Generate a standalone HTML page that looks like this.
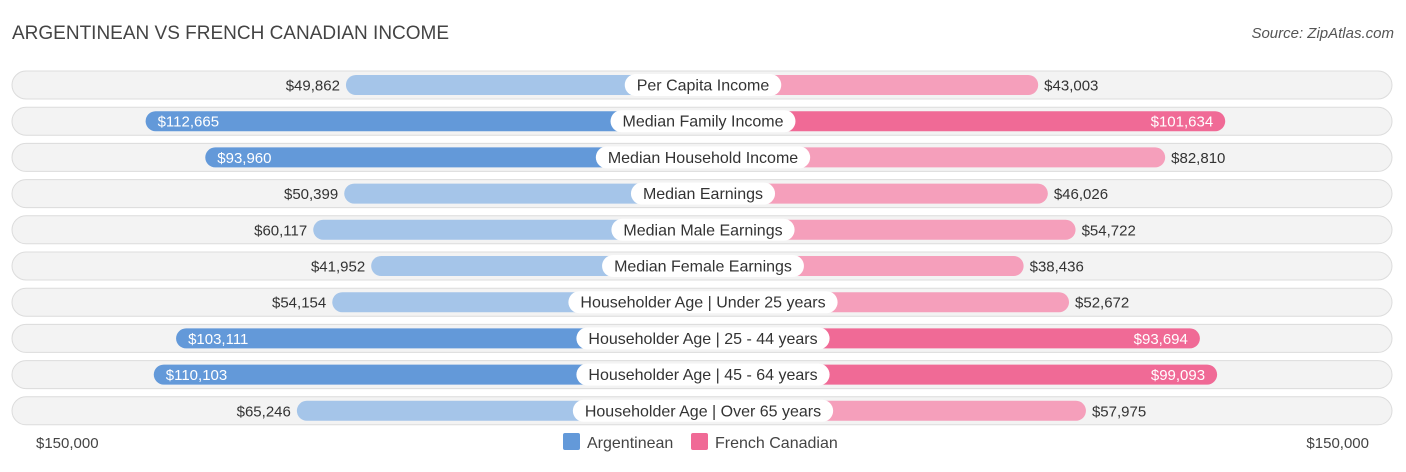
<!DOCTYPE html>
<html><head><meta charset="utf-8"><style>
body{margin:0;background:#fff;font-family:"Liberation Sans",sans-serif;}
svg text{font-family:"Liberation Sans",sans-serif;}
</style></head><body>
<svg id="chart" width="1406" height="467" xmlns="http://www.w3.org/2000/svg">
<text x="12" y="39" font-size="19" fill="#444">ARGENTINEAN VS FRENCH CANADIAN INCOME</text>
<text x="1394" y="38" font-size="15" fill="#555" text-anchor="end" font-style="italic">Source: ZipAtlas.com</text>
<g id="rows"></g>
<text x="36" y="448" font-size="15" fill="#444">$150,000</text>
<text x="1369" y="448" font-size="15" fill="#444" text-anchor="end">$150,000</text>
<g>
<rect x="563" y="433" width="17" height="17" rx="2" fill="#6399d9"/>
<text x="587" y="448" font-size="16" fill="#444">Argentinean</text>
<rect x="691" y="433" width="17" height="17" rx="2" fill="#f06a96"/>
<text x="715" y="448" font-size="16" fill="#444">French Canadian</text>
</g>
</svg>
<script>
const categories=["Per Capita Income","Median Family Income","Median Household Income","Median Earnings","Median Male Earnings","Median Female Earnings","Householder Age | Under 25 years","Householder Age | 25 - 44 years","Householder Age | 45 - 64 years","Householder Age | Over 65 years"];
const argentinean=[49862,112665,93960,50399,60117,41952,54154,103111,110103,65246];
const frenchCanadian=[43003,101634,82810,46026,54722,38436,52672,93694,99093,57975];
const NS="http://www.w3.org/2000/svg";
const cx=703, base=198, scale=3.19/1000;
const len=v=>base+v*scale;
const rowY=i=>85+i*36.2;
const g=document.getElementById('rows');
function mk(tag,attrs){const e=document.createElementNS(NS,tag);for(const k in attrs)e.setAttribute(k,attrs[k]);return e;}
const fmt=v=>"$"+v.toLocaleString("en-US");
categories.forEach((c,i)=>{
  const y=rowY(i);
  const bg=mk('rect',{x:12,y:y-14,width:1380,height:28,rx:14,fill:'#f3f3f3',stroke:'#dcdcdc','stroke-width':1});
  
  
  g.appendChild(bg);
  const a=argentinean[i], f=frenchCanadian[i];
  const strongA=a>90000, strongF=f>90000;
  const la=len(a), lf=len(f);
  const ba=mk('rect',{x:cx-la,y:y-10,width:la,height:20,rx:10,fill:strongA?'#6399d9':'#a5c5e9'});
  
  
  g.appendChild(ba);
  const bf=mk('rect',{x:cx,y:y-10,width:lf,height:20,rx:10,fill:strongF?'#f06a96':'#f59fbb'});
  
  
  g.appendChild(bf);
  const ta=mk('text',{y:y+5.5,'font-size':15});
  if(strongA){ta.setAttribute('x',cx-la+12);ta.setAttribute('fill','#fff');}
  else{ta.setAttribute('x',cx-la-6);ta.setAttribute('text-anchor','end');ta.setAttribute('fill','#333');}
  ta.textContent=fmt(a);
  
  
  g.appendChild(ta);
  const tf=mk('text',{y:y+5.5,'font-size':15});
  if(strongF){tf.setAttribute('x',cx+lf-12);tf.setAttribute('text-anchor','end');tf.setAttribute('fill','#fff');}
  else{tf.setAttribute('x',cx+lf+6);tf.setAttribute('fill','#333');}
  tf.textContent=fmt(f);
  
  
  g.appendChild(tf);
  const lbl=mk('text',{x:cx,y:y+5.5,'font-size':16,'text-anchor':'middle',fill:'#333'});
  lbl.textContent=c;
  
  
  g.appendChild(lbl);
  const w=lbl.getComputedTextLength()+24;
  const pill=mk('rect',{x:cx-w/2,y:y-11,width:w,height:22,rx:11,fill:'#fff'});
  
  
  g.insertBefore(pill,lbl);
});
</script>
</body></html>
